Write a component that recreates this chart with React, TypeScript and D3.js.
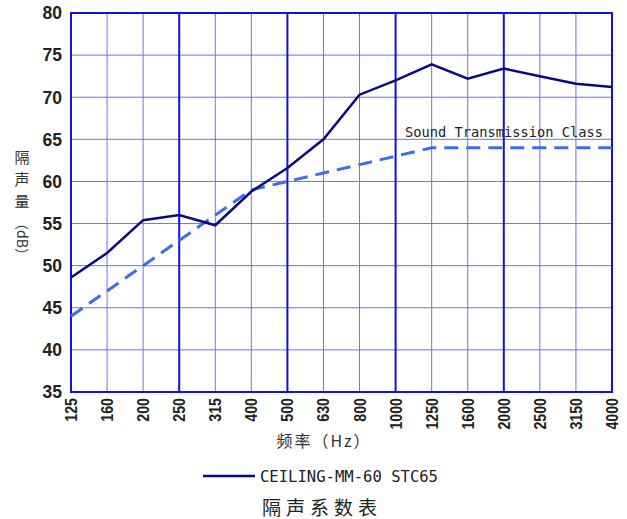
import React from "react";
import * as d3 from "d3";

const frequencies = ["125","160","200","250","315","400","500","630","800","1000","1250","1600","2000","2500","3150","4000"];
const measured = [48.6,51.5,55.4,56.0,54.8,58.8,61.6,65.0,70.3,72.0,73.9,72.2,73.4,72.5,71.6,71.2];
const stcContour = [44,47,50,53,56,59,60,61,62,63,64,64,64,64,64,64];
const yTicks = [35,40,45,50,55,60,65,70,75,80];
const majorFreqs = ["125","250","500","1000","2000","4000"];

const W = 627, H = 519;
const left = 71, right = 612, top = 13, bottom = 392;

export default function App() {
  const x = d3.scalePoint<string>().domain(frequencies).range([left, right]);
  const y = d3.scaleLinear().domain([35, 80]).range([bottom, top]);
  const line = d3.line<number>().x((_, i) => x(frequencies[i])!).y(d => y(d));
  const labelFont = "Liberation Sans, Arial, sans-serif";
  const mono = "DejaVu Sans Mono, monospace";
  return (
    <svg width={W} height={H} style={{ position: "absolute", left: 0, top: 0 }}>
      <rect width={W} height={H} fill="#fff" />
      {yTicks.map(t => (
        <line key={"h" + t} x1={left} x2={right} y1={y(t)} y2={y(t)} stroke="#7070ee" strokeWidth={1} />
      ))}
      {frequencies.map(f => majorFreqs.includes(f) ? null : (
        <line key={"v" + f} x1={x(f)} x2={x(f)} y1={top} y2={bottom} stroke="#7070ee" strokeWidth={1} />
      ))}
      {majorFreqs.map(f => (
        <line key={"m" + f} x1={x(f)} x2={x(f)} y1={top} y2={bottom} stroke="#1010ee" strokeWidth={2} />
      ))}
      <line x1={left - 1} x2={right + 1} y1={top} y2={top} stroke="#1010ee" strokeWidth={2} />
      <line x1={left - 1} x2={right + 1} y1={bottom} y2={bottom} stroke="#1010ee" strokeWidth={2} />
      <path d={line(stcContour)!} fill="none" stroke="#3d6cf0" strokeWidth={3} strokeDasharray="14,8" />
      <path d={line(measured)!} fill="none" stroke="#0a0a80" strokeWidth={2.5} />
      {yTicks.map(t => (
        <text key={"yt" + t} x={left - 9} y={y(t)} dy="0.36em" textAnchor="end" fontFamily={labelFont} fontWeight="bold" fontSize={17.5} fill="#222">{t}</text>
      ))}
      {frequencies.map(f => (
        <text key={"xt" + f} transform={`translate(${x(f)! + 6},${bottom + 6}) rotate(-90)`} textAnchor="end" fontFamily={labelFont} fontWeight="bold" fontSize={16} fill="#222" textLength={f.length * 7.9} lengthAdjust="spacingAndGlyphs">{f}</text>
      ))}
      <text x={405} y={137} fontFamily={mono} fontSize={13.5} fill="#222" textLength={198} lengthAdjust="spacingAndGlyphs">Sound Transmission Class</text>
      {["隔", "声", "量"].map((c, i) => (
        <text key={c} x={22} y={163 + i * 22} textAnchor="middle" fontFamily="Noto Sans CJK SC" fontSize={15} fill="#333">{c}</text>
      ))}
      <text transform="translate(17,216) rotate(90)" fontFamily="Noto Sans CJK SC" fontSize={14} fill="#333">（dB）</text>
      <text x={324} y={447} textAnchor="middle" fontFamily="Noto Sans CJK SC" fontSize={16} fill="#333" letterSpacing={2}>频率（Hz）</text>
      <line x1={203} x2={255} y1={476} y2={476} stroke="#0a0a80" strokeWidth={2.5} />
      <text x={260} y={482} fontFamily={mono} fontSize={15} fill="#222" textLength={178} lengthAdjust="spacingAndGlyphs">CEILING-MM-60 STC65</text>
      <text x={322} y={515} textAnchor="middle" fontFamily="Noto Sans CJK SC" fontSize={19} fill="#222" letterSpacing={5}>隔声系数表</text>
    </svg>
  );
}
